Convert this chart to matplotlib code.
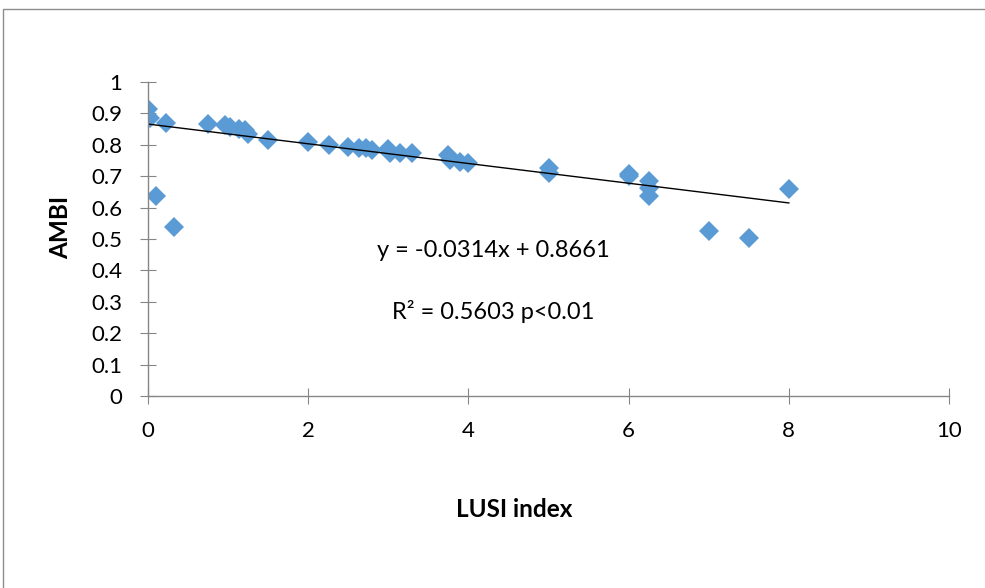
import numpy as np
import matplotlib
matplotlib.use("Agg")
import matplotlib.pyplot as plt
from matplotlib.patches import Rectangle

plt.rcParams['font.family'] = ['Lato', 'DejaVu Sans']

# LUSI index vs AMBI
lusi = [0, 0, 0.03, 0.1, 0.22, 0.33, 0.75, 0.96, 1.02, 1.13, 1.21, 1.25, 1.5,
        2.0, 2.26, 2.5, 2.63, 2.72, 2.79, 2.99, 3.02, 3.14, 3.29,
        3.75, 3.77, 3.9, 4.0, 5.0, 5.0, 6.0, 6.0, 6.25, 6.25, 6.25,
        7.0, 7.5, 8.0]
ambi = [0.913, 0.89, 0.885, 0.637, 0.87, 0.539, 0.865, 0.863, 0.858, 0.849, 0.847, 0.834, 0.815,
        0.81, 0.80, 0.794, 0.789, 0.791, 0.783, 0.786, 0.774, 0.773, 0.773,
        0.768, 0.752, 0.746, 0.743, 0.725, 0.71, 0.70, 0.708, 0.686, 0.664, 0.637,
        0.526, 0.504, 0.658]

slope, intercept = -0.0314, 0.8661

fig = plt.figure(figsize=(9.85, 5.88), dpi=100)
ax = fig.add_axes([0.1503, 0.3265, 0.8132, 0.534])

ax.plot(lusi, ambi, linestyle='none', marker='D', markersize=10,
        color='#5B9BD5', markeredgewidth=0)
xs = np.array([min(lusi), max(lusi)])
ax.plot(xs, slope * xs + intercept, color='black', linewidth=1)

ax.set_xlim(0, 10)
ax.set_ylim(0, 1)
ax.set_xticks(np.arange(0, 11, 2))
ax.set_yticks(np.round(np.arange(0, 1.01, 0.1), 1))
ax.set_yticklabels(['0'] + ['%.1f' % v for v in np.arange(0.1, 0.95, 0.1)] + ['1'])

for s in ['top', 'right']:
    ax.spines[s].set_visible(False)
for s in ['left', 'bottom']:
    ax.spines[s].set_color('#868686')
    ax.spines[s].set_linewidth(1)
ax.tick_params(axis='both', direction='inout', length=11.5, color='#868686',
               labelsize=16)
ax.tick_params(axis='y', pad=13)
ax.tick_params(axis='x', pad=12)

ax.set_xlabel('LUSI index', fontsize=17.5, fontweight='bold', va='center')
ax.set_ylabel('AMBI', fontsize=17.5, fontweight='bold', va='center')
ax.xaxis.set_label_coords(0.457, -0.363)
ax.yaxis.set_label_coords(-0.1086, 0.538)

ax.text(4.31, 0.465, 'y = -0.0314x + 0.8661', fontsize=17, ha='center', va='center')
ax.text(4.31, 0.268, 'R² = 0.5603 p<0.01', fontsize=17, ha='center', va='center')

fig.patches.append(Rectangle((3 / 985, -0.1), 1.2, 1 - 9 / 588 + 0.1,
                             transform=fig.transFigure, fill=False,
                             edgecolor='#8c8c8c', linewidth=1))

fig.savefig('out.png', dpi=100)
